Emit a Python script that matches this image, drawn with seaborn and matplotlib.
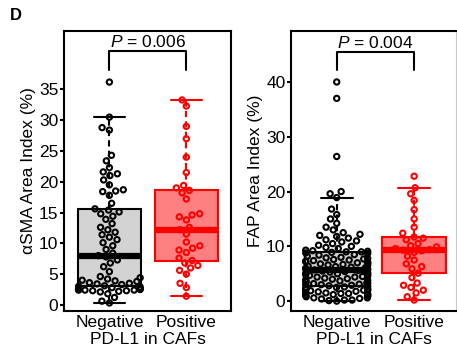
import matplotlib
matplotlib.use("Agg")
import matplotlib.pyplot as plt
import seaborn as sns
import pandas as pd

groups = ["Negative", "Positive"]

# alpha-SMA area index (%)
sma_neg = [0.3, 0.6, 1.2, 1.8, 2.1, 2.2, 2.3, 2.3, 2.4, 2.4, 2.4, 2.5, 2.5, 2.6,
           2.7, 2.8, 2.9, 3.0,
           3.1, 3.3, 3.4, 3.5, 3.6, 3.8, 3.9, 4.0, 4.2, 4.4, 4.6, 5.4, 6.2, 6.8,
           7.3, 7.8, 8.0,
           8.4, 9.0, 9.6, 10.1, 10.6, 11.0, 11.4, 11.8, 12.2, 12.6, 13.2, 13.9,
           14.4, 14.8, 15.1, 15.4, 15.6,
           16.5, 17.8, 18.4, 18.5, 18.7, 19.5, 20.3, 21.0, 21.3, 21.6, 22.3, 23.4,
           24.3, 28.4, 28.8, 30.5, 36.2]
sma_pos = [1.4, 2.8, 3.5, 5.0, 5.6, 6.0, 6.4, 6.8, 7.2,
           7.6, 8.5, 8.9, 9.2, 9.6, 10.2, 11.5, 12.2,
           12.6, 13.8, 14.3, 14.6, 14.8, 17.2, 18.2, 18.6,
           19.0, 19.4, 21.5, 24.0, 27.0, 29.0, 32.3, 33.3]

# FAP area index (%)
fap_neg = [0.0, 0.1, 0.2, 0.2, 0.4, 0.5, 0.6, 0.6, 0.8, 0.9, 1.0, 1.1, 1.2, 1.2, 1.3,
           1.4, 1.4, 1.5, 1.6, 1.7, 1.8, 1.9, 2.0, 2.0, 2.1, 2.2, 2.2, 2.4, 2.5, 2.6,
           2.7,
           2.8, 2.9, 3.0, 3.0, 3.1, 3.2, 3.3, 3.3, 3.5, 3.6, 3.7, 3.8, 3.9, 4.0, 4.1,
           4.2, 4.4, 4.4, 4.5, 4.6, 4.7, 4.8, 4.9, 5.0, 5.1, 5.2, 5.3, 5.4, 5.5,
           5.6,
           5.7, 5.8, 5.9, 6.0, 6.1, 6.2, 6.3, 6.4, 6.5, 6.6, 6.7, 6.8, 6.9, 7.0, 7.1,
           7.2, 7.3, 7.4, 7.5, 7.6, 7.7, 7.8, 7.9, 8.0, 8.2, 8.4, 8.5, 8.7, 8.8,
           8.9,
           9.0, 9.0, 9.1, 9.2, 9.3, 9.6, 9.8, 10.0, 10.2, 10.5, 10.8, 11.0, 11.2, 11.5,
           11.8, 12.0, 12.2, 12.5, 13.0, 13.5, 14.2, 15.0, 15.8, 16.8, 18.9, 19.6,
           20.0, 26.4, 37.0, 40.0]
fap_pos = [0.2, 0.8, 1.5, 2.0, 2.5, 2.9, 3.3, 4.3, 5.1,
           5.9, 6.3, 6.8, 7.5, 8.2, 8.9, 9.2, 9.3,
           9.4, 9.6, 9.9, 10.1, 10.5, 11.2, 11.5, 11.7,
           12.4, 13.5, 15.0, 16.7, 18.4, 19.6, 20.7, 22.8]

sma_ticks = [0, 5, 10, 15, 20, 25, 30, 35]
fap_ticks = [0, 10, 20, 30, 40]
p_labels = ["0.006", "0.004"]

sns.set_style("white")
plt.rcParams["font.family"] = ["Liberation Sans", "DejaVu Sans"]
plt.rcParams["mathtext.fontset"] = "custom"
plt.rcParams["mathtext.rm"] = "Liberation Sans"
plt.rcParams["mathtext.it"] = "Liberation Sans:italic"
plt.rcParams["text.color"] = "black"
plt.rcParams["axes.labelcolor"] = "black"
plt.rcParams["xtick.color"] = "black"
plt.rcParams["ytick.color"] = "black"

fig = plt.figure(figsize=(4.57, 3.56), dpi=100)
ax1 = fig.add_axes([0.140, 0.1264, 0.3654, 0.7865])
ax2 = fig.add_axes([0.6368, 0.1264, 0.361, 0.7865])

styles = {"Negative": ("#d3d3d3", "black"), "Positive": ("#ff8080", "red")}


def panel(ax, neg, pos, ylab, ticks, ylim, whis, pval, br_lo, br_hi):
    df = pd.DataFrame({
        "group": ["Negative"] * len(neg) + ["Positive"] * len(pos),
        "value": neg + pos,
    })
    for g, (fill, line) in styles.items():
        sub = df[df.group == g]
        sns.boxplot(data=sub, x="group", y="value", order=groups, color=fill,
                    linecolor=line, saturation=1, width=0.82, whis=whis,
                    showfliers=False, linewidth=1.5,
                    whiskerprops=dict(linestyle=(0, (3, 2))),
                    medianprops=dict(linewidth=4.5), ax=ax)
    for g, (fill, line) in styles.items():
        sub = df[df.group == g]
        n0 = len(ax.collections)
        sns.swarmplot(data=sub, x="group", y="value", order=groups, color=line,
                      size=3.8, warn_thresh=1, ax=ax)
        for pts in ax.collections[n0:]:
            pts.set_facecolor("none")
            pts.set_edgecolor(line)
            pts.set_linewidth(1.5)

    ax.plot([0, 0, 1, 1], [br_lo, br_hi, br_hi, br_lo], color="black", lw=1.5,
            clip_on=False)
    ax.text(0.5, br_hi + 0.2, r"$P$ = " + pval, ha="center", va="bottom",
            fontsize=12.5)

    ax.set_xlim(-0.59, 1.58)
    ax.set_ylim(*ylim)
    ax.set_yticks(ticks)
    ax.set_ylabel(ylab, fontsize=12.5, labelpad=2)
    ax.set_xlabel("PD-L1 in CAFs", fontsize=12.5, labelpad=1)
    ax.tick_params(axis="y", direction="out", length=3, width=1.5, color="black",
                   labelsize=12.5, pad=1, left=True)
    ax.tick_params(axis="x", length=0, labelsize=12.5, pad=3)
    for s in ax.spines.values():
        s.set_visible(True)
        s.set_color("black")
        s.set_linewidth(1.5)


panel(ax1, sma_neg, sma_pos, "αSMA Area Index (%)", sma_ticks, (-1.0, 44.5), 1.5,
      p_labels[0], 38.2, 41.2)
panel(ax2, fap_neg, fap_pos, "FAP Area Index (%)", fap_ticks, (-1.8, 49.3), 1.65,
      p_labels[1], 42.2, 45.5)
ax2.set_xlim(-0.59, 1.54)
ax2.spines["right"].set_color("#c8c8c8")
ax2.spines["right"].set_linewidth(0.8)

fig.text(10 / 457, 1 - 15 / 356, "D", fontweight="bold", fontsize=12, va="center")

fig.savefig("out.png", dpi=100)
